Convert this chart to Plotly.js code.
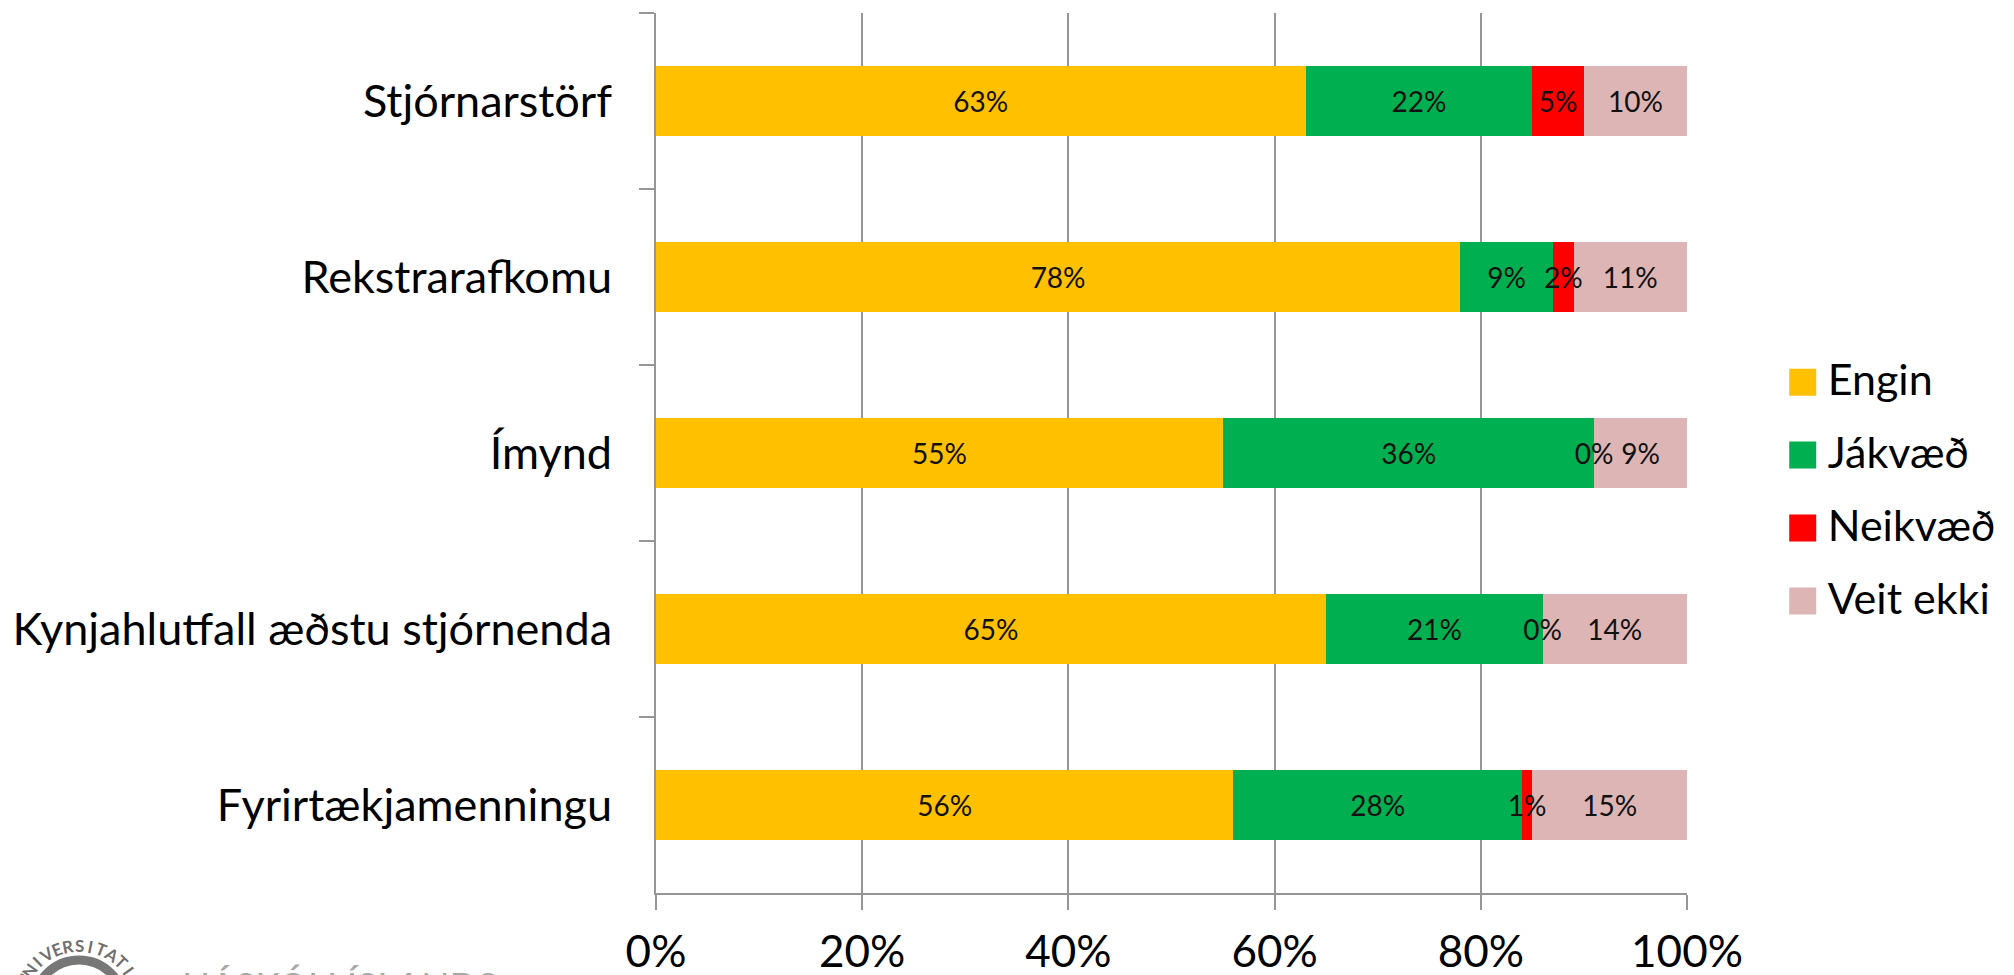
<!DOCTYPE html>
<html><head><meta charset="utf-8">
<script src="https://cdn.plot.ly/plotly-3.0.1.min.js"></script>
<style>html,body{margin:0;padding:0;background:#fff;overflow:hidden}</style>
</head><body><div id="chart" style="width:2014px;height:975px"></div>
<script>
const categories = ["Stjórnarstörf","Rekstrarafkomu","Ímynd","Kynjahlutfall æðstu stjórnenda","Fyrirtækjamenningu"];
const engin   = [63,78,55,65,56];
const jakvaed = [22,9,36,21,28];
const neikvaed= [5,2,0,0,1];
const veitEkki= [10,11,9,14,15];
const seriesNames = ["Engin","Jákvæð","Neikvæð","Veit ekki"];
const seriesColors = ["#FFC000","#00B050","#FF0000","#DDB5B5"];
const seriesValues = [engin,jakvaed,neikvaed,veitEkki];
const xTicks = [0,20,40,60,80,100];
const sealText = "UNIVERSITATIS";
const logoText = "HÁSKÓLI ÍSLANDS";
const F = "Lato, Carlito, sans-serif";
const W=2014,H=975,L=656,R=1687,T=13,B=893;
const px = x=>(x-L)/(R-L), py = y=>1-(y-T)/(B-T);

const traces = seriesValues.map((v,i)=>({type:'bar',orientation:'h',name:seriesNames[i],legendgroup:seriesNames[i],
  y:categories,x:v,marker:{color:seriesColors[i]},hoverinfo:'skip'}));
const running = categories.map(()=>0);
seriesValues.forEach((v)=>{
  const mid = v.map((d,k)=>running[k]+d/2);
  v.forEach((d,k)=>running[k]+=d);
  traces.push({type:'scatter',mode:'text',yaxis:'y2',y:categories,x:mid,text:v.map(d=>d+'%'),textposition:'middle center',
    textfont:{family:F,size:28,color:'#111'},showlegend:false,hoverinfo:'skip',cliponaxis:false});
});

// University seal fragment and wordmark at the lower left corner
const sx=79, sy=1005, sr=60;
const sealAnn = sealText.split('').map((c,i)=>{
  const a=(-66+i*11)*Math.PI/180;
  return {xref:'paper',yref:'paper',x:px(sx+sr*Math.sin(a)),y:py(sy-sr*Math.cos(a)),text:c,textangle:(-66+i*11),showarrow:false,
    xanchor:'center',yanchor:'middle',font:{family:F,size:17,color:'#707070',weight:700}};
});
const logoAnn = {xref:'paper',yref:'paper',x:px(180),y:py(960),xanchor:'left',yanchor:'top',showarrow:false,text:logoText,
  font:{family:F,size:37,color:'#a8a8a8'}};

const layout = {
  width:W,height:H,paper_bgcolor:'#fff',plot_bgcolor:'#fff',
  margin:{l:L,r:W-R,t:T,b:H-B,pad:0},
  barmode:'stack',bargap:0.6,
  font:{family:F,color:'#000'},
  xaxis:{range:[0,100],tickvals:xTicks,ticktext:xTicks.map(t=>t+'%'),showgrid:true,gridcolor:'#969696',gridwidth:2,
    zeroline:false,showline:true,linecolor:'#969696',linewidth:2,ticks:'outside',ticklen:15,tickwidth:2,tickcolor:'#969696',
    tickfont:{family:F,size:44,color:'#000'},ticklabelstandoff:4},
  yaxis:{type:'category',autorange:false,range:[4.5,-0.5],tickson:'boundaries',showgrid:false,zeroline:false,showline:true,linecolor:'#969696',linewidth:2,
    ticks:'outside',ticklen:15,tickwidth:2,tickcolor:'#969696',tickfont:{family:F,size:45,color:'#000'},ticklabelstandoff:33},
  yaxis2:{type:'category',overlaying:'y',side:'left',visible:false,autorange:false,range:[4.477,-0.523],showgrid:false,zeroline:false},
  showlegend:true,
  legend:{x:1.088,xanchor:'left',y:0.4605,yanchor:'middle',traceorder:'grouped',tracegroupgap:14,font:{family:F,size:43,color:'#000'},itemwidth:40,bgcolor:'rgba(0,0,0,0)'},
  shapes:[{type:'circle',xref:'paper',yref:'paper',x0:px(sx-45),x1:px(sx+45),y0:py(sy+45),y1:py(sy-45),line:{color:'#777',width:9},fillcolor:'#fff'}],
  annotations:[...sealAnn,logoAnn]
};
Plotly.newPlot('chart',traces,layout,{displayModeBar:false,staticPlot:true}).then(()=>{
  document.querySelectorAll('.legendpoints path').forEach(p=>p.setAttribute('d','M13.5,17.5H-13.5V-9.5H13.5Z'));
});
</script></body></html>
